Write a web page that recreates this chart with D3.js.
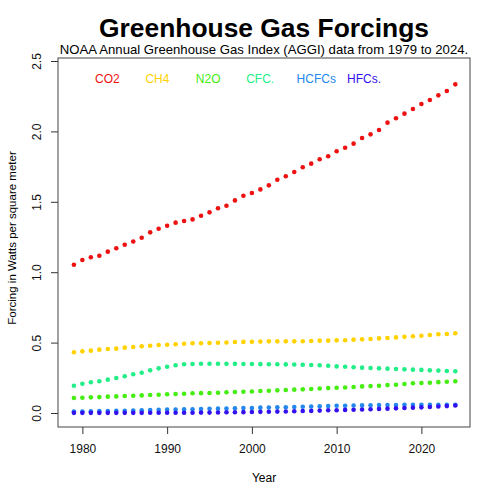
<!DOCTYPE html>
<html lang="en">
<head>
  <meta charset="UTF-8">
  <title>Greenhouse Gas Forcings</title>
  <style>
    body { margin: 0; background: #fff; }
    svg text { font-family: "Liberation Sans", Arial, Helvetica, sans-serif; }
  </style>
</head>
<body>
<div id="my_dataviz"></div>
<script src="https://d3js.org/d3.v7.min.js"></script>
<script>
    // years 1979..2024
    var years = d3.range(1979, 2025);

    // forcing values in W/m2
    var co2 = [1.053, 1.087, 1.106, 1.117, 1.146, 1.170, 1.195, 1.218, 1.245, 1.283,
               1.309, 1.330, 1.352, 1.364, 1.375, 1.401, 1.425, 1.454, 1.472, 1.510,
               1.543, 1.562, 1.588, 1.617, 1.657, 1.681, 1.712, 1.745, 1.771, 1.802,
               1.823, 1.859, 1.884, 1.913, 1.953, 1.979, 2.010, 2.062, 2.093, 2.126,
               2.159, 2.195, 2.223, 2.256, 2.287, 2.334];
    var ch4 = [0.431, 0.438, 0.443, 0.450, 0.455, 0.457, 0.464, 0.469, 0.474, 0.478,
               0.483, 0.485, 0.488, 0.492, 0.495, 0.495, 0.497, 0.499, 0.501, 0.504,
               0.505, 0.506, 0.507, 0.509, 0.509, 0.509, 0.509, 0.510, 0.511, 0.514,
               0.514, 0.516, 0.517, 0.521, 0.523, 0.526, 0.530, 0.533, 0.537, 0.541,
               0.545, 0.549, 0.554, 0.559, 0.561, 0.566];
    var n2o = [0.107, 0.108, 0.111, 0.113, 0.116, 0.118, 0.121, 0.123, 0.125, 0.128,
               0.130, 0.133, 0.135, 0.137, 0.140, 0.141, 0.142, 0.144, 0.147, 0.149,
               0.151, 0.153, 0.156, 0.158, 0.161, 0.163, 0.166, 0.168, 0.170, 0.174,
               0.177, 0.179, 0.181, 0.185, 0.189, 0.191, 0.194, 0.198, 0.201, 0.206,
               0.211, 0.213, 0.215, 0.219, 0.222, 0.225];
    var cfc = [0.194, 0.208, 0.218, 0.225, 0.237, 0.249, 0.261, 0.275, 0.286, 0.303,
               0.317, 0.329, 0.339, 0.346, 0.348, 0.350, 0.350, 0.350, 0.349, 0.349,
               0.348, 0.348, 0.347, 0.346, 0.346, 0.345, 0.344, 0.343, 0.341, 0.339,
               0.336, 0.331, 0.328, 0.325, 0.322, 0.320, 0.317, 0.315, 0.313, 0.310,
               0.308, 0.306, 0.303, 0.301, 0.298, 0.296];
    var hcfc = [0.010, 0.011, 0.012, 0.013, 0.014, 0.015, 0.016, 0.018, 0.019, 0.021,
                0.022, 0.024, 0.025, 0.026, 0.027, 0.028, 0.030, 0.031, 0.032, 0.034,
                0.035, 0.036, 0.038, 0.039, 0.040, 0.041, 0.043, 0.044, 0.046, 0.048,
                0.049, 0.051, 0.052, 0.053, 0.054, 0.055, 0.056, 0.057, 0.057, 0.058,
                0.058, 0.058, 0.058, 0.058, 0.058, 0.058];
    var hfc = [0.001, 0.001, 0.001, 0.001, 0.001, 0.001, 0.001, 0.001, 0.001, 0.002,
               0.002, 0.002, 0.002, 0.002, 0.002, 0.003, 0.003, 0.004, 0.005, 0.005,
               0.006, 0.007, 0.008, 0.009, 0.010, 0.011, 0.012, 0.014, 0.015, 0.017,
               0.019, 0.020, 0.022, 0.023, 0.025, 0.027, 0.029, 0.031, 0.033, 0.035,
               0.038, 0.040, 0.043, 0.046, 0.049, 0.053];

    var gasNames = ["CO2", "CH4", "N2O", "CFC.", "HCFCs", "HFCs."];
    var gasColors = ["#ee1111", "#ffd200", "#44ee11", "#22ee88", "#2288ee", "#3311ee"];
    var gasValues = [co2, ch4, n2o, cfc, hcfc, hfc];

    var xTicks = [1980, 1990, 2000, 2010, 2020];
    var yTicks = [0.0, 0.5, 1.0, 1.5, 2.0, 2.5];

    // plot box in page pixels
    var box = {left: 58, right: 470, top: 58, bottom: 427};

    var svg = d3.select("#my_dataviz")
        .append("svg")
        .attr("width", 500)
        .attr("height", 500);

    var x = d3.scaleLinear()
        .domain([1979, 2024])
        .range([73.9, 455.3]);

    var y = d3.scaleLinear()
        .domain([0, 2.5])
        .range([413, 61]);

    // titles
    svg.append("text")
        .attr("x", 264).attr("y", 37)
        .attr("text-anchor", "middle")
        .style("font-size", "26.4px")
        .style("font-weight", "bold")
        .text("Greenhouse Gas Forcings");

    svg.append("text")
        .attr("x", 264).attr("y", 53.5)
        .attr("text-anchor", "middle")
        .style("font-size", "13.15px")
        .text("NOAA Annual Greenhouse Gas Index (AGGI) data from 1979 to 2024.");

    // x axis (ticks only, box draws the line)
    var xAxis = svg.append("g")
        .attr("transform", "translate(0," + box.bottom + ")")
        .call(d3.axisBottom(x).tickValues(xTicks).tickFormat(d3.format("d"))
              .tickSize(7).tickSizeOuter(0).tickPadding(10));
    xAxis.select(".domain").remove();
    xAxis.selectAll("text").style("font-size", "12px").attr("fill", "#111");
    xAxis.selectAll("line").attr("stroke", "#333");

    // y axis, labels rotated like R
    var yAxis = svg.append("g")
        .attr("transform", "translate(" + box.left + ",0)")
        .call(d3.axisLeft(y).tickValues(yTicks).tickFormat(d3.format(".1f"))
              .tickSize(7).tickSizeOuter(0));
    yAxis.select(".domain").remove();
    yAxis.selectAll("line").attr("stroke", "#333");
    yAxis.selectAll("text")
        .style("font-size", "12px")
        .attr("fill", "#111")
        .attr("x", null).attr("dy", null)
        .attr("text-anchor", "middle")
        .attr("transform", "translate(-17,0) rotate(-90)");

    svg.append("rect")
        .attr("x", box.left).attr("y", box.top)
        .attr("width", box.right - box.left)
        .attr("height", box.bottom - box.top)
        .attr("fill", "none")
        .attr("stroke", "#444");

    // axis titles
    svg.append("text")
        .attr("x", 264).attr("y", 482)
        .attr("text-anchor", "middle")
        .style("font-size", "12px")
        .text("Year");

    svg.append("text")
        .attr("transform", "translate(16,238) rotate(-90)")
        .attr("text-anchor", "middle")
        .style("font-size", "11.5px")
        .text("Forcing in Watts per square meter");

    // points, one group per gas
    gasValues.forEach(function(vals, i) {
        svg.append("g")
            .attr("fill", gasColors[i])
            .selectAll("circle")
            .data(vals)
            .join("circle")
            .attr("cx", function(d, j) { return x(years[j]); })
            .attr("cy", function(d) { return y(d); })
            .attr("r", 2.3);
    });

    // legend row of coloured names
    svg.append("g")
        .selectAll("text")
        .data(gasNames)
        .join("text")
        .attr("x", function(d, i) { return 95 + i * 50.4; })
        .attr("y", 83)
        .attr("fill", function(d, i) { return gasColors[i]; })
        .style("font-size", "12px")
        .text(function(d) { return d; });
</script>
</body>
</html>
